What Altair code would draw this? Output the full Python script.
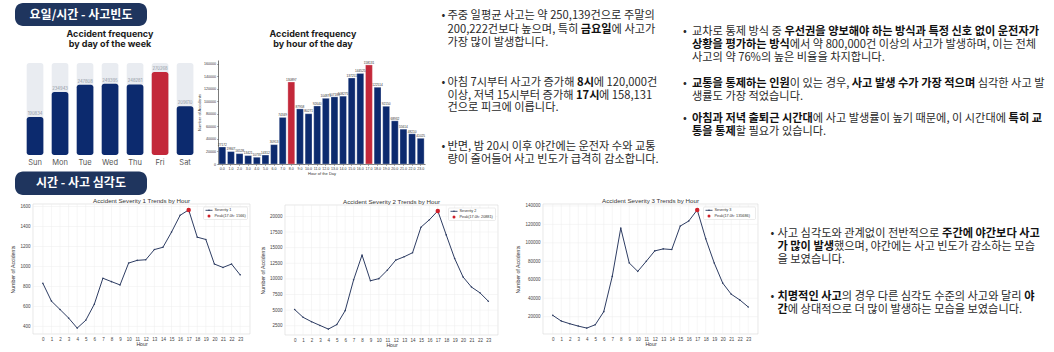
import altair as alt
import pandas as pd

# ------------------------------------------------------------------ data
days = ["Sun", "Mon", "Tue", "Wed", "Thu", "Fri", "Sat"]
day_counts = [190834, 234943, 247808, 249395, 248281, 270268, 209610]
highlight_day = "Fri"

hours = list(range(24))
hour_counts = [27172, 19847, 16528, 13421, 10735, 14312, 30913, 74349, 130897, 87958,
               80271, 92640, 104871, 107183, 108275, 137251, 144525, 158131, 122514,
               92150, 68932, 55614, 48210, 41025]
highlight_hours = [8, 17]
freq_ticks = [0, 20000, 40000, 60000, 80000, 100000, 120000, 140000, 160000]

sev1_counts = [831, 653, 569, 484, 383, 461, 622, 882, 848, 815, 1034, 1061,
               1067, 1169, 1192, 1344, 1512, 1566, 1293, 1270, 1024, 990, 1024, 916]
sev2_counts = [5085, 3846, 3146, 2550, 1962, 2680, 4923, 9850, 13808, 9700, 10039, 11385,
               13000, 13539, 14185, 18277, 19462, 20881, 17039, 13270, 10308, 8692, 7777, 6431]
sev3_counts = [21450, 15270, 12360, 9820, 7640, 11270, 25450, 63640, 115990, 78180, 69090, 80000,
               91270, 93450, 92730, 118180, 123640, 135686, 104360, 78180, 56360, 44360, 38180, 30550]
sev1_ticks = [400, 600, 800, 1000, 1200, 1400, 1600]
sev2_ticks = [2500, 5000, 7500, 10000, 12500, 15000, 17500, 20000]
sev3_ticks = [20000, 40000, 60000, 80000, 100000, 120000, 140000]
sev_series = ["Severity 1", "Severity 2", "Severity 3"]
sev_titles = ["Accident Severity 1 Trends by Hour",
              "Accident Severity 2 Trends by Hour",
              "Accident Severity 3 Trends by Hour"]

header1 = "요일/시간 - 사고빈도"
header2 = "시간 - 사고 심각도"
day_title = ["Accident frequency", "by day of the week"]
hour_title = ["Accident frequency", "by hour of the day"]

# text blocks: bullets -> lines -> (segment, bold)
text1 = [
    [[("주중 일평균 사고는 약 250,139건으로 주말의", 0)],
     [("200,222건보다 높으며, 특히 ", 0), ("금요일", 1), ("에 사고가", 0)],
     [("가장 많이 발생합니다.", 0)]],
    [[("아침 7시부터 사고가 증가해 ", 0), ("8시", 1), ("에 120,000건", 0)],
     [("이상, 저녁 15시부터 증가해 ", 0), ("17시", 1), ("에 158,131", 0)],
     [("건으로 피크에 이릅니다.", 0)]],
    [[("반면, 밤 20시 이후 야간에는 운전자 수와 교통", 0)],
     [("량이 줄어들어 사고 빈도가 급격히 감소합니다.", 0)]],
]
text2 = [
    [[("교차로 통제 방식 중 ", 0), ("우선권을 양보해야 하는 방식과 특정 신호 없이 운전자가", 1)],
     [("상황을 평가하는 방식", 1), ("에서 약 800,000건 이상의 사고가 발생하며, 이는 전체", 0)],
     [("사고의 약 76%의 높은 비율을 차지합니다.", 0)]],
    [[("교통을 통제하는 인원", 1), ("이 있는 경우, ", 0), ("사고 발생 수가 가장 적으며", 1), (" 심각한 사고 발", 0)],
     [("생률도 가장 적었습니다.", 0)]],
    [[("아침과 저녁 출퇴근 시간대", 1), ("에 사고 발생률이 높기 때문에, 이 시간대에 ", 0), ("특히 교", 1)],
     [("통을 통제", 1), ("할 필요가 있습니다.", 0)]],
]
text3 = [
    [[("사고 심각도와 관계없이 전반적으로 ", 0), ("주간에 야간보다 사고", 1)],
     [("가 많이 발생", 1), ("했으며, 야간에는 사고 빈도가 감소하는 모습", 0)],
     [("을 보였습니다.", 0)]],
    [[("치명적인 사고", 1), ("의 경우 다른 심각도 수준의 사고와 달리 ", 0), ("야", 1)],
     [("간", 1), ("에 상대적으로 더 많이 발생하는 모습을 보였습니다.", 0)]],
]

# ------------------------------------------------------------------ style
NAVY = "#0c2a6e"
RED = "#c3283a"
BG = "#e9ecf1"
PILL = "#1f355e"
LINE = "#2e3d63"
PEAK = "#d0202a"
GRID = "#ececec"
FRAME = "#d9d9d9"
FONT_KR = "Noto Sans CJK KR"
FONT_EN = "Inter"
FONT_PLT = "Liberation Sans"
W, H = 1054, 352
FS = 11.2

one = pd.DataFrame({"k": [0]})


def rect(x0, x1, y0, y1, **kw):
    return alt.Chart(one).mark_rect(**kw).encode(
        x=alt.value(x0), x2=alt.value(x1), y=alt.value(y0), y2=alt.value(y1))


def label(txt, x, y, **kw):
    return alt.Chart(one).mark_text(text=txt, **kw).encode(x=alt.value(x), y=alt.value(y))


layers = []

# ------------------------------------------------------------------ headers
for txt, (y0, y1) in [(header1, (3, 26)), (header2, (171.5, 195))]:
    layers.append(rect(15, 147, y0, y1, fill=PILL, cornerRadius=8))
    layers.append(label(txt, 81, (y0 + y1) / 2, font=FONT_KR, fontSize=12, fontWeight="bold",
                        color="white", align="center", baseline="middle"))

# ------------------------------------------------------------------ weekday chart
W_MIN, W_MAX = 123700, 286200
wdf = pd.DataFrame({"day": days, "count": day_counts})
WX = alt.Scale(domain=days, range=[26.7, 193.4], paddingInner=0.333, paddingOuter=0)
WY = alt.Scale(domain=[W_MIN, W_MAX], range=[155, 63], nice=False, zero=False)
wx = alt.X("day:N", scale=WX, axis=None)
wy = alt.Y("count:Q", scale=WY, axis=None)
wbase = alt.Chart(wdf)
w_bg = wbase.mark_bar(color=BG, cornerRadius=2.5).encode(
    x=wx, y=alt.YDatum(datum=W_MAX, scale=WY, axis=None), y2=alt.datum(W_MIN))
w_val = wbase.mark_bar(cornerRadius=2.5).encode(
    x=wx, y=wy, y2=alt.datum(W_MIN),
    color=alt.when(alt.datum.day == highlight_day).then(alt.value(RED)).otherwise(alt.value(NAVY)))
w_lab = wbase.mark_text(fontSize=4.2, color="#8f96a3", baseline="bottom", dy=-1.2, font=FONT_EN).encode(
    x=wx, y=wy, text=alt.Text("count:Q", format="d"))
w_day = wbase.mark_text(fontSize=7.5, color="#555555", font=FONT_EN, baseline="middle").encode(
    x=wx, y=alt.value(163), text="day:N")
layers.append(alt.layer(w_bg, w_val, w_lab, w_day))
for i, t in enumerate(day_title):
    layers.append(label(t, 110, 33.5 + 10.5 * i, font=FONT_EN, fontSize=9, fontWeight="bold",
                        color="#1a1a1a", align="center", baseline="middle"))

# ------------------------------------------------------------------ hourly chart
HX0, HX1, HY0, HY1 = 218, 425, 60, 164
hdf = pd.DataFrame({"hour": hours, "count": hour_counts})
HXS = alt.Scale(domain=hours, range=[HX0, HX1], paddingInner=0.2, paddingOuter=0.1)
HYS = alt.Scale(domain=[0, 166000], range=[HY1, HY0], nice=False)
hx = alt.X("hour:O", scale=HXS, axis=alt.Axis(
    orient="bottom", offset=HY1 - H, labelExpr="datum.label + '.0'", labelFontSize=3.6,
    labelAngle=0, labelColor="#333", labelFont=FONT_PLT, tickSize=1.5, tickWidth=0.4,
    tickColor="#333", domainWidth=0.6, domainColor="#222", labelPadding=1,
    title="Hour of the Day", titleFontSize=4, titleFont=FONT_PLT, titleFontWeight="normal",
    titleColor="#333", titlePadding=1))
hy = alt.Y("count:Q", scale=HYS, axis=alt.Axis(
    orient="left", offset=-HX0, values=freq_ticks, format="d", labelFontSize=3.6,
    labelColor="#333", labelFont=FONT_PLT, tickSize=1.5, tickWidth=0.4, tickColor="#333",
    domainWidth=0.6, domainColor="#222", labelPadding=1, grid=False, labelFlush=False,
    title="Number of Accidents", titleFontSize=4, titleFont=FONT_PLT, titleFontWeight="normal",
    titleColor="#333", titlePadding=2))
h_bar = alt.Chart(hdf).mark_bar(stroke="white", strokeWidth=0.3).encode(
    x=hx, y=hy,
    color=alt.when(alt.FieldOneOfPredicate(field="hour", oneOf=highlight_hours))
    .then(alt.value(RED)).otherwise(alt.value(NAVY)))
h_lab = alt.Chart(hdf).mark_text(fontSize=3.2, color="#333", baseline="bottom", dy=-0.4,
                                 font=FONT_PLT).encode(
    x=hx, y=hy, text=alt.Text("count:Q", format="d"))
layers.append(alt.layer(h_bar, h_lab))
for i, t in enumerate(hour_title):
    layers.append(label(t, 313, 33.5 + 10.5 * i, font=FONT_EN, fontSize=9, fontWeight="bold",
                        color="#1a1a1a", align="center", baseline="middle"))


# ------------------------------------------------------------------ severity charts
def severity_panel(counts, ticks, title, series, x0, x1, y0, y1, leg_w):
    df = pd.DataFrame({"hour": hours, "count": counts})
    lo, hi = min(counts), max(counts)
    pad = 0.05 * (hi - lo)
    ydom = [lo - pad, hi + pad]
    xdom = [-1.15, 24.15]
    XS = alt.Scale(domain=xdom, range=[x0, x1], nice=False, zero=False)
    YS = alt.Scale(domain=ydom, range=[y1, y0], nice=False, zero=False)
    xaxis = alt.Axis(orient="bottom", offset=y1 - H, values=hours, labelFontSize=4.5,
                     labelColor="#444", labelFont=FONT_PLT, labelPadding=2.5, ticks=False,
                     domain=False, grid=False, labelFlush=False, labelOverlap=False, labelAngle=0,
                     title="Hour", titleFontSize=5.2, titleFont=FONT_PLT, titleFontWeight="normal",
                     titleColor="#333", titlePadding=0.5)
    yaxis = alt.Axis(orient="left", offset=-x0, values=ticks, format="d", labelFontSize=4.5,
                     labelColor="#444", labelFont=FONT_PLT, labelPadding=3, ticks=False,
                     domain=False, grid=False, labelFlush=False, labelOverlap=False,
                     title="Number of Accidents", titleFontSize=5.2, titleFont=FONT_PLT,
                     titleFontWeight="normal", titleColor="#333", titlePadding=4)
    frame = alt.Chart(one).mark_rect(fill="white", stroke=FRAME, strokeWidth=0.6).encode(
        x=alt.XDatum(datum=xdom[0], scale=XS, axis=xaxis), x2=alt.datum(xdom[1]),
        y=alt.YDatum(datum=ydom[0], scale=YS, axis=yaxis), y2=alt.datum(ydom[1]))
    vgrid = alt.Chart(pd.DataFrame({"t": hours})).mark_rule(color=GRID, strokeWidth=0.5).encode(
        x=alt.X("t:Q", scale=XS, axis=xaxis),
        y=alt.YDatum(datum=ydom[0], scale=YS, axis=yaxis), y2=alt.datum(ydom[1]))
    hgrid = alt.Chart(pd.DataFrame({"t": ticks})).mark_rule(color=GRID, strokeWidth=0.5).encode(
        y=alt.Y("t:Q", scale=YS, axis=yaxis),
        x=alt.XDatum(datum=xdom[0], scale=XS, axis=xaxis), x2=alt.datum(xdom[1]))
    line = alt.Chart(df).mark_line(
        color=LINE, strokeWidth=1.0,
        point=alt.OverlayMarkDef(filled=True, size=2.5, color=LINE)).encode(
        x=alt.X("hour:Q", scale=XS, axis=xaxis), y=alt.Y("count:Q", scale=YS, axis=yaxis))
    pk = df[df["count"] == hi]
    peak_text = f"Peak({int(pk['hour'].iloc[0])}.0h: {int(hi)})"
    peak = alt.Chart(pk).mark_point(filled=True, size=20, color=PEAK, opacity=1).encode(
        x=alt.X("hour:Q", scale=XS, axis=xaxis), y=alt.Y("count:Q", scale=YS, axis=yaxis))
    out = [alt.layer(frame, vgrid, hgrid, line, peak)]
    # title
    out.append(label(title, (x0 + x1) / 2, y0 - 3.5, font=FONT_PLT, fontSize=6.2, color="#333",
                     align="center", baseline="middle"))
    # legend
    lx1 = x1 - 2.5
    lx0 = lx1 - leg_w
    ly0 = y0 + 3
    out.append(rect(lx0, lx1, ly0, ly0 + 12.5, fill="white", stroke="#d0d0d0", strokeWidth=0.4,
                    cornerRadius=1))
    out.append(alt.Chart(one).mark_rule(color=LINE, strokeWidth=0.9).encode(
        x=alt.value(lx0 + 2), x2=alt.value(lx0 + 9), y=alt.value(ly0 + 3.3)))
    out.append(alt.Chart(one).mark_point(filled=True, size=2.5, color=LINE, opacity=1).encode(
        x=alt.value(lx0 + 5.5), y=alt.value(ly0 + 3.3)))
    out.append(alt.Chart(one).mark_point(filled=True, size=9, color=PEAK, opacity=1).encode(
        x=alt.value(lx0 + 5.5), y=alt.value(ly0 + 9)))
    out.append(label(series, lx0 + 11, ly0 + 3.3, font=FONT_PLT, fontSize=3.8, color="#333",
                     align="left", baseline="middle"))
    out.append(label(peak_text, lx0 + 11, ly0 + 9, font=FONT_PLT, fontSize=3.8, color="#333",
                     align="left", baseline="middle"))
    return out


layers += severity_panel(sev1_counts, sev1_ticks, sev_titles[0], sev_series[0], 33, 250, 204, 334, 44)
layers += severity_panel(sev2_counts, sev2_ticks, sev_titles[1], sev_series[1], 285, 498, 205, 335, 47)
layers += severity_panel(sev3_counts, sev3_ticks, sev_titles[2], sev_series[2], 543, 758, 204, 334, 52)


# ------------------------------------------------------------------ text blocks
def text_width(s, f, bold=False):
    w = 0.0
    for ch in s:
        o = ord(ch)
        if 0xAC00 <= o <= 0xD7A3:
            w += 0.92
        elif ch == " ":
            w += 0.224
        elif ch.isdigit():
            w += 0.57 if bold else 0.553
        elif ch in ",.":
            w += 0.27
        elif ch == "%":
            w += 0.86
        else:
            w += 0.5
    return w * f


def build_text(block, bullet_x, text_x, line_ys):
    rows = []
    for bullet, ys in zip(block, line_ys):
        for li, (segs, y) in enumerate(zip(bullet, ys)):
            if li == 0:
                rows.append(dict(x=bullet_x, y=y, text="•", bold=0))
            x = text_x
            for s, b in segs:
                lead = len(s) - len(s.lstrip(" "))
                trail = len(s) - len(s.rstrip(" "))
                core = s.strip(" ")
                x += text_width(" " * lead, FS)
                rows.append(dict(x=x, y=y, text=core, bold=b))
                x += text_width(core, FS, bool(b))
                x += text_width(" " * trail, FS)
    return rows


rows = []
rows += build_text(text1, 441.5, 447.5, [[16, 29.5, 43], [83, 95.5, 108], [147, 159.5]])
rows += build_text(text2, 683, 692, [[32, 45, 58], [84, 97], [119, 132]])
rows += build_text(text3, 770.5, 777.5, [[233.5, 246.8, 260], [297, 310]])
tdf = pd.DataFrame(rows)
for b, weight, col in [(0, "normal", "#2a2a2a"), (1, "bold", "#111111")]:
    layers.append(alt.Chart(tdf[tdf["bold"] == b]).mark_text(
        align="left", baseline="middle", font=FONT_KR, fontSize=FS, fontWeight=weight,
        color=col).encode(
        x=alt.X("x:Q", scale=None, axis=None), y=alt.Y("y:Q", scale=None, axis=None),
        text="text:N"))

chart = alt.layer(*layers).resolve_scale(x="independent", y="independent").properties(
    width=W, height=H, autosize=alt.AutoSizeParams(type="none"), padding=0,
    background="white").configure_view(stroke=None)

chart.save("out.html", embed_options={"renderer": "svg", "actions": False})
